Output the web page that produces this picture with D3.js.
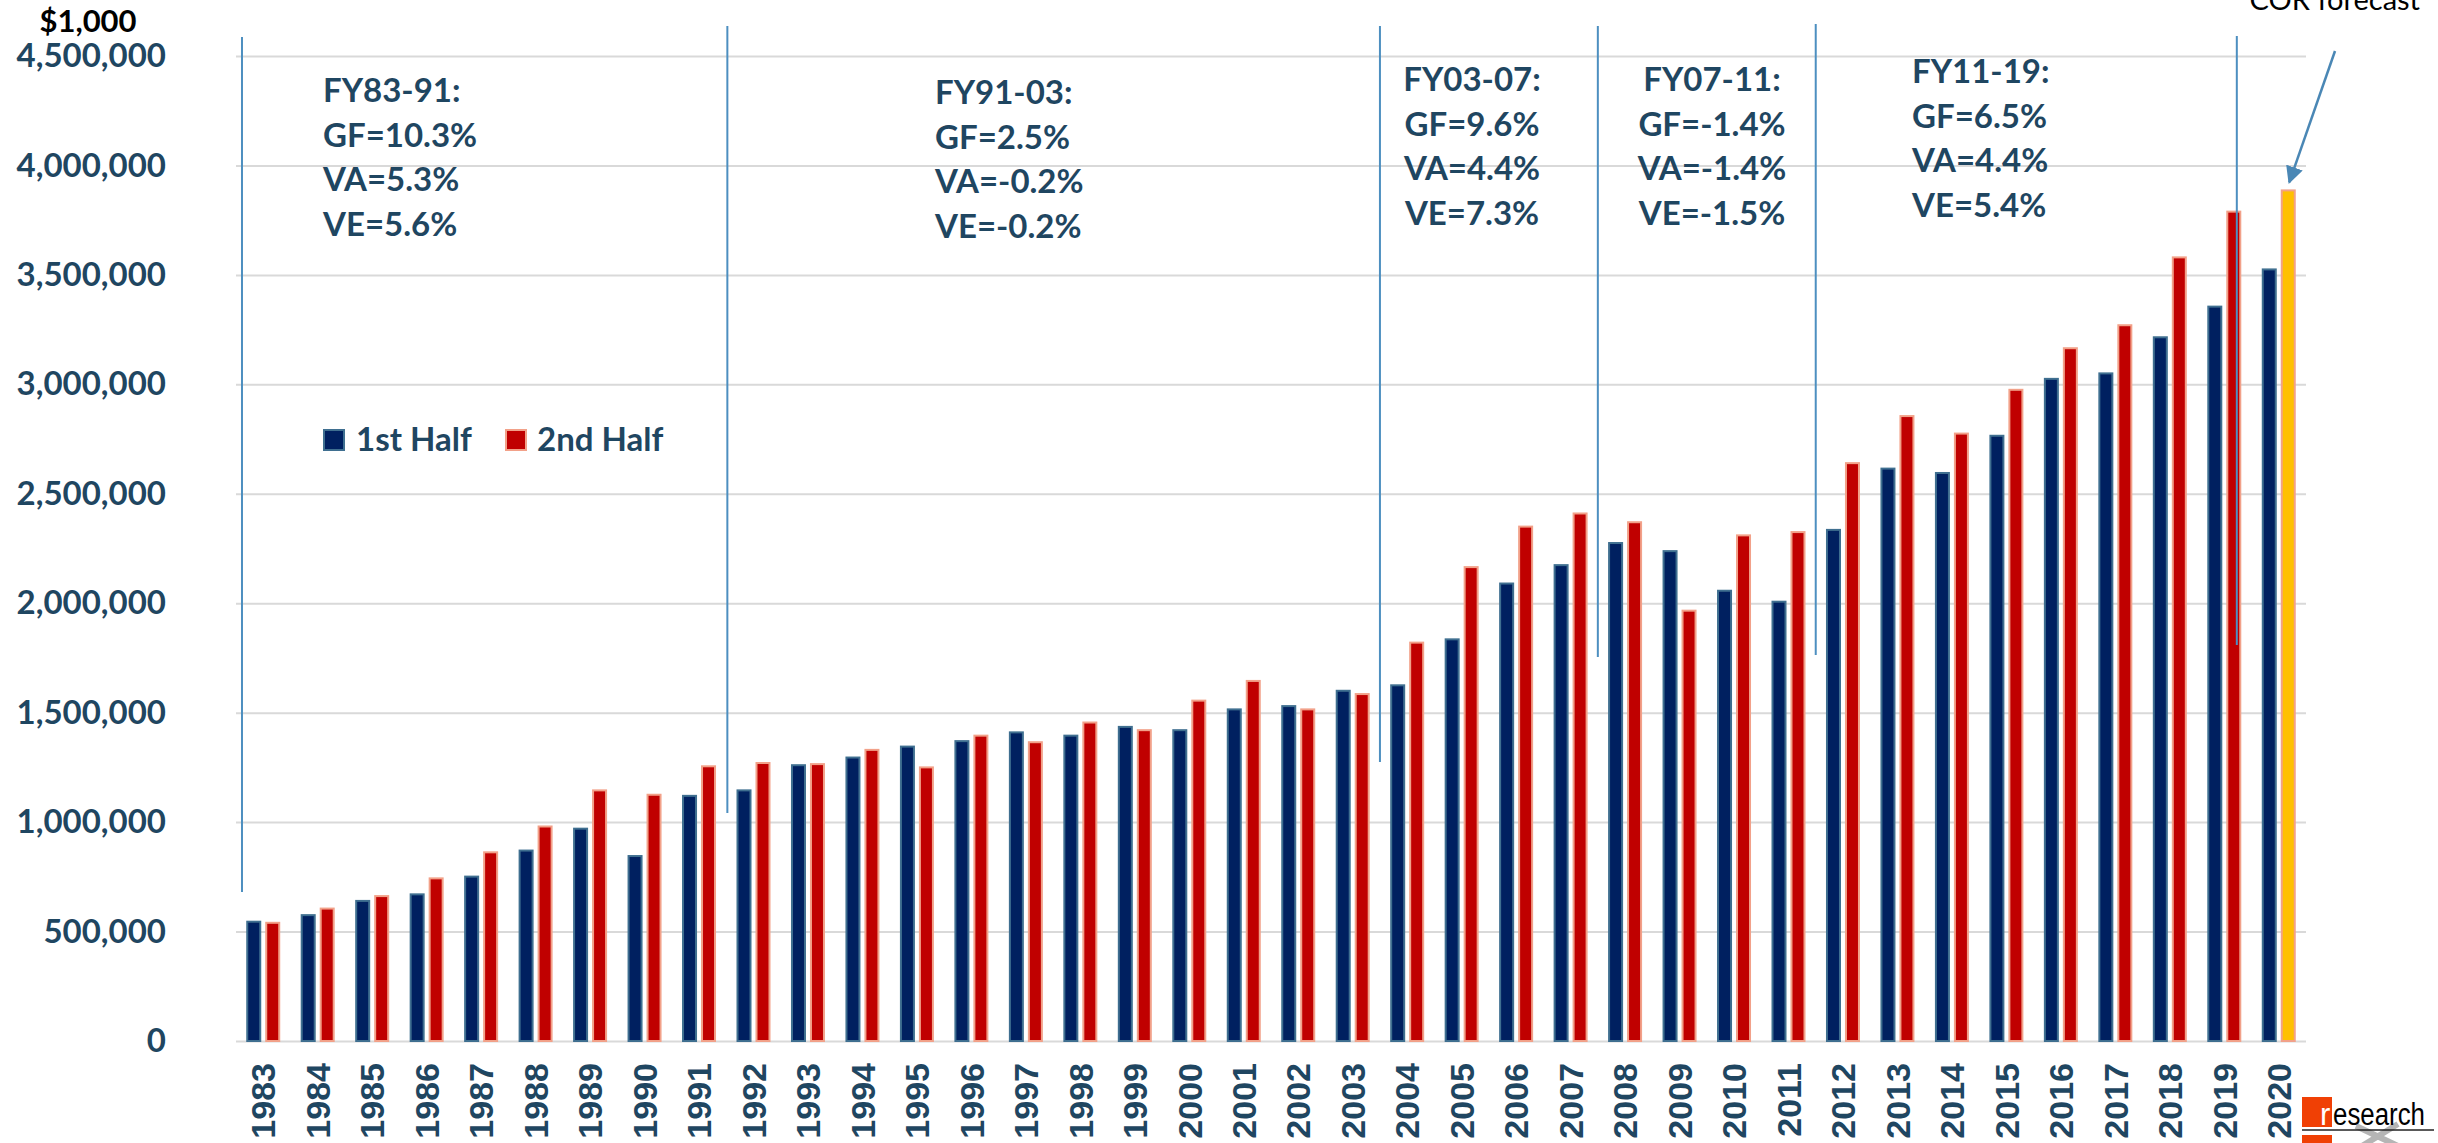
<!DOCTYPE html>
<html>
<head>
<meta charset="utf-8">
<script src="https://cdn.jsdelivr.net/npm/d3@7"></script>
<style>
  body { margin: 0; background: #fff; }
  svg { display: block; }
</style>
</head>
<body>
<div id="chart"></div>
<script>
const width = 2438;
const height = 1143;

const years = ["1983","1984","1985","1986","1987","1988","1989","1990","1991","1992",
  "1993","1994","1995","1996","1997","1998","1999","2000","2001","2002",
  "2003","2004","2005","2006","2007","2008","2009","2010","2011","2012",
  "2013","2014","2015","2016","2017","2018","2019","2020"];

// $1,000
const firstHalf = [545, 575, 640, 670, 751, 870, 970, 845, 1120, 1145,
  1260, 1295, 1345, 1370, 1410, 1395, 1435, 1420, 1515, 1530,
  1600, 1625, 1835, 2090, 2174, 2275, 2238, 2057, 2007, 2335,
  2615, 2595, 2765, 3025, 3050, 3215, 3355, 3525].map(d => d * 1000);
const secondHalf = [540, 605, 662, 743, 862, 980, 1145, 1125, 1255, 1270,
  1265, 1330, 1250, 1395, 1365, 1455, 1420, 1555, 1645, 1515,
  1585, 1820, 2165, 2350, 2410, 2370, 1966, 2310, 2325, 2640,
  2855, 2775, 2975, 3165, 3270, 3580, 3789, 3886].map(d => d * 1000);
const forecastYear = "2020";

const yTicks = [0, 500000, 1000000, 1500000, 2000000, 2500000, 3000000, 3500000, 4000000, 4500000];

// period dividers: year boundary, offset as share of a step, y extent
const dividers = [
  { year: "1983", off: 0.11, top: 4587000, bottom: 681000 },
  { year: "1992", off: 0.02, top: 4637000, bottom: 1042000 },
  { year: "2004", off: 0.0, top: 4637000, bottom: 1275000 },
  { year: "2008", off: 0.0, top: 4637000, bottom: 1754000 },
  { year: "2012", off: 0.0, top: 4646000, bottom: 1763000 },
  { year: "2019", off: 0.73, top: 4591000, bottom: 1809000 },
];

const periods = [
  { lines: ["FY83-91:", "GF=10.3%", "VA=5.3%", "VE=5.6%"], x: 323, y: 102, anchor: "start" },
  { lines: ["FY91-03:", "GF=2.5%", "VA=-0.2%", "VE=-0.2%"], x: 935, y: 104, anchor: "start" },
  { lines: ["FY03-07:", "GF=9.6%", "VA=4.4%", "VE=7.3%"], x: 1472, y: 91, anchor: "middle" },
  { lines: ["FY07-11:", "GF=-1.4%", "VA=-1.4%", "VE=-1.5%"], x: 1712, y: 91, anchor: "middle" },
  { lines: ["FY11-19:", "GF=6.5%", "VA=4.4%", "VE=5.4%"], x: 1912, y: 83, anchor: "start" },
];

const textColor = "#1f4661";
const labelFont = "Lato, 'Open Sans', sans-serif";

const margin = { top: 56, right: 132, bottom: 102, left: 236 };

const svg = d3
  .select("#chart")
  .append("svg")
  .attr("width", width)
  .attr("height", height);

const x0 = d3
  .scaleBand()
  .domain(years)
  .range([margin.left, width - margin.right])
  .paddingInner(0.376)
  .paddingOuter(0.188);

const x1 = d3
  .scaleBand()
  .domain(["first", "second"])
  .range([0, x0.bandwidth()])
  .paddingInner(0.21);

const y = d3
  .scaleLinear()
  .domain([0, 4500000])
  .range([height - margin.bottom, margin.top]);

// grid + y labels
const yAxis = svg
  .append("g")
  .attr("transform", `translate(${margin.left},0)`)
  .call(
    d3.axisLeft(y)
      .tickValues(yTicks)
      .tickSize(-(width - margin.left - margin.right))
      .tickPadding(70)
      .tickFormat(d3.format(","))
  );
yAxis.select(".domain").remove();
yAxis.selectAll(".tick line").attr("stroke", "#d9d9d9").attr("stroke-width", 2);
yAxis
  .selectAll(".tick text")
  .attr("fill", textColor)
  .style("font-family", labelFont)
  .style("font-weight", 700)
  .style("font-size", "33px");

svg
  .append("text")
  .attr("x", 88)
  .attr("y", 32)
  .attr("text-anchor", "middle")
  .style("font-family", labelFont)
  .style("font-weight", 700)
  .style("font-size", "31px")
  .attr("fill", "#000")
  .text("$1,000");

// x labels
const xAxis = svg
  .append("g")
  .attr("transform", `translate(0,${height - margin.bottom})`)
  .call(d3.axisBottom(x0).tickSize(0));
xAxis.select(".domain").remove();
xAxis
  .selectAll(".tick text")
  .attr("x", 0)
  .attr("y", 0)
  .attr("dy", "0.36em")
  .attr("transform", "translate(0,22) rotate(-90)")
  .style("text-anchor", "end")
  .attr("fill", textColor)
  .style("font-family", "'Liberation Sans', Arial, sans-serif")
  .style("font-weight", 700)
  .style("font-size", "34px");

// bars
const rows = years.map((yr, i) => ({ year: yr, first: firstHalf[i], second: secondHalf[i] }));

const group = svg
  .append("g")
  .selectAll("g")
  .data(rows)
  .join("g")
  .attr("transform", (d) => `translate(${x0(d.year)},0)`);

group
  .selectAll("rect")
  .data((d) => [
    { key: "first", value: d.first, year: d.year },
    { key: "second", value: d.second, year: d.year },
  ])
  .join("rect")
  .attr("x", (d) => x1(d.key) + 1)
  .attr("width", x1.bandwidth() - 2)
  .attr("y", (d) => y(d.value))
  .attr("height", (d) => y(0) - y(d.value))
  .attr("fill", (d) =>
    d.key === "first" ? "#002060" : d.year === forecastYear ? "#ffc000" : "#c00000"
  )
  .attr("stroke", (d) => (d.key === "first" ? "#3f6f90" : "#f2a189"))
  .attr("stroke-width", 2);

// dividers
svg
  .append("g")
  .selectAll("line")
  .data(dividers)
  .join("line")
  .attr("x1", (d) => x0(d.year) - x0.step() * 0.188 + d.off * x0.step())
  .attr("x2", (d) => x0(d.year) - x0.step() * 0.188 + d.off * x0.step())
  .attr("y1", (d) => y(d.top))
  .attr("y2", (d) => y(d.bottom))
  .attr("stroke", "#4d8fc0")
  .attr("stroke-width", 2);

// period notes
periods.forEach((p) => {
  svg
    .append("text")
    .attr("text-anchor", p.anchor)
    .attr("fill", textColor)
    .style("font-family", labelFont)
    .style("font-weight", 700)
    .style("font-size", "33px")
    .selectAll("tspan")
    .data(p.lines)
    .join("tspan")
    .attr("x", p.x)
    .attr("y", (d, i) => p.y + i * 44.5)
    .text((d) => d);
});

// legend
const legend = svg.append("g").attr("transform", "translate(323,429)");
const legendItems = [
  { label: "1st Half", fill: "#002060", stroke: "#3f6f90", x: 0, tx: 33 },
  { label: "2nd Half", fill: "#c00000", stroke: "#f2a189", x: 182, tx: 214 },
];
legendItems.forEach((l) => {
  legend
    .append("rect")
    .attr("x", l.x + 1)
    .attr("y", 1)
    .attr("width", 20)
    .attr("height", 20)
    .attr("fill", l.fill)
    .attr("stroke", l.stroke)
    .attr("stroke-width", 2);
  legend
    .append("text")
    .attr("x", l.tx)
    .attr("y", 22)
    .attr("fill", textColor)
    .style("font-family", labelFont)
    .style("font-weight", 700)
    .style("font-size", "33px")
    .text(l.label);
});

// forecast callout
svg
  .append("text")
  .attr("x", 2420)
  .attr("y", 10)
  .attr("text-anchor", "end")
  .style("font-family", labelFont)
  .style("font-size", "29px")
  .attr("fill", "#000")
  .text("COR forecast");

svg
  .append("defs")
  .append("marker")
  .attr("id", "arrow")
  .attr("viewBox", "0 0 10 10")
  .attr("refX", 9)
  .attr("refY", 5)
  .attr("markerWidth", 7)
  .attr("markerHeight", 7)
  .attr("orient", "auto")
  .append("path")
  .attr("d", "M0,0L10,5L0,10Z")
  .attr("fill", "#4a87b5");

svg
  .append("line")
  .attr("x1", 2335)
  .attr("y1", 51)
  .attr("x2", x0(forecastYear) + x1("second") + x1.bandwidth() / 2 + 1)
  .attr("y2", y(secondHalf[secondHalf.length - 1]) - 8)
  .attr("stroke", "#4a87b5")
  .attr("stroke-width", 2.5)
  .attr("marker-end", "url(#arrow)");

// logo
const logo = svg.append("g");
logo.append("rect").attr("x", 2302).attr("y", 1097).attr("width", 30).attr("height", 30).attr("fill", "#f04005");
logo.append("rect").attr("x", 2302).attr("y", 1135).attr("width", 30).attr("height", 12).attr("fill", "#f04005");
logo.append("path").attr("d", "M2356,1126L2398,1146M2398,1124L2362,1146")
  .attr("stroke", "#b5b5b5").attr("stroke-width", 6).attr("fill", "none");
logo.append("text").attr("x", 2320).attr("y", 1125)
  .style("font-family", "'Liberation Sans', Arial, sans-serif").style("font-size", "31px")
  .attr("fill", "#fff").text("r");
logo.append("text").attr("x", 2333).attr("y", 1125)
  .attr("textLength", 92)
  .attr("lengthAdjust", "spacingAndGlyphs")
  .style("font-family", "'Liberation Sans Narrow', 'Liberation Sans', Arial, sans-serif")
  .style("font-size", "31px")
  .attr("fill", "#000").text("esearch");
logo.append("line").attr("x1", 2302).attr("x2", 2434).attr("y1", 1130).attr("y2", 1130)
  .attr("stroke", "#222").attr("stroke-width", 1.5);
</script>
</body>
</html>
